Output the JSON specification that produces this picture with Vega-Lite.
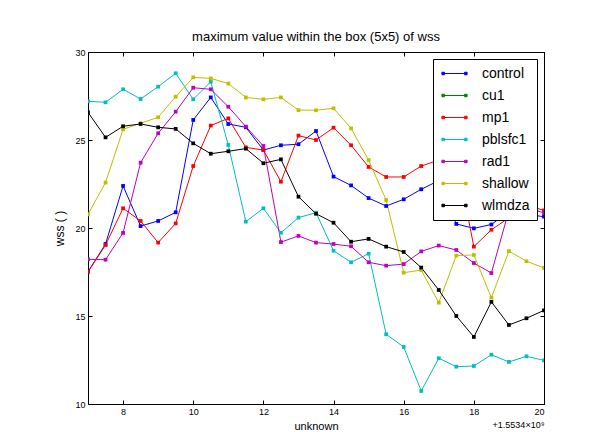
{
  "$schema": "https://vega.github.io/schema/vega-lite/v6.json",
  "width": 456,
  "height": 352,
  "autosize": {"type": "none"},
  "padding": {"left": 88, "top": 52, "right": 48, "bottom": 28},
  "background": "white",
  "title": {"text": "maximum value within the box (5x5) of wss", "font": "Liberation Sans", "fontSize": 13, "fontWeight": "normal", "color": "black", "anchor": "middle", "offset": 4},
  "data": {"values": [
    {"s":"control","t":7,"v":17.52},{"s":"control","t":7.5,"v":19.09},{"s":"control","t":8,"v":22.39},{"s":"control","t":8.5,"v":20.11},{"s":"control","t":9,"v":20.4},{"s":"control","t":9.5,"v":20.89},{"s":"control","t":10,"v":26.14},{"s":"control","t":10.5,"v":27.42},{"s":"control","t":11,"v":25.91},{"s":"control","t":11.5,"v":25.72},{"s":"control","t":12,"v":24.43},{"s":"control","t":12.5,"v":24.7},{"s":"control","t":13,"v":24.76},{"s":"control","t":13.5,"v":25.51},{"s":"control","t":14,"v":22.92},{"s":"control","t":14.5,"v":22.42},{"s":"control","t":15,"v":21.7},{"s":"control","t":15.5,"v":21.25},{"s":"control","t":16,"v":21.63},{"s":"control","t":16.5,"v":22.2},{"s":"control","t":17,"v":22.69},{"s":"control","t":17.5,"v":20.23},{"s":"control","t":18,"v":19.98},{"s":"control","t":18.5,"v":20.2},{"s":"control","t":19,"v":20.93},{"s":"control","t":19.5,"v":20.78},{"s":"control","t":20,"v":20.64},
    {"s":"mp1","t":7,"v":17.5},{"s":"mp1","t":7.5,"v":19.03},{"s":"mp1","t":8,"v":21.12},{"s":"mp1","t":8.5,"v":20.4},{"s":"mp1","t":9,"v":19.17},{"s":"mp1","t":9.5,"v":20.26},{"s":"mp1","t":10,"v":23.52},{"s":"mp1","t":10.5,"v":25.82},{"s":"mp1","t":11,"v":26.23},{"s":"mp1","t":11.5,"v":24.58},{"s":"mp1","t":12,"v":24.43},{"s":"mp1","t":12.5,"v":22.63},{"s":"mp1","t":13,"v":25.25},{"s":"mp1","t":13.5,"v":25.0},{"s":"mp1","t":14,"v":25.7},{"s":"mp1","t":14.5,"v":24.7},{"s":"mp1","t":15,"v":23.47},{"s":"mp1","t":15.5,"v":22.9},{"s":"mp1","t":16,"v":22.9},{"s":"mp1","t":16.5,"v":23.52},{"s":"mp1","t":17,"v":23.86},{"s":"mp1","t":17.5,"v":24.0},{"s":"mp1","t":18,"v":18.94},{"s":"mp1","t":18.5,"v":19.9},{"s":"mp1","t":19,"v":20.58},{"s":"mp1","t":19.5,"v":21.3},{"s":"mp1","t":20,"v":21.0},
    {"s":"pblsfc1","t":7,"v":27.2},{"s":"pblsfc1","t":7.5,"v":27.14},{"s":"pblsfc1","t":8,"v":27.88},{"s":"pblsfc1","t":8.5,"v":27.33},{"s":"pblsfc1","t":9,"v":28.03},{"s":"pblsfc1","t":9.5,"v":28.79},{"s":"pblsfc1","t":10,"v":27.31},{"s":"pblsfc1","t":10.5,"v":28.31},{"s":"pblsfc1","t":11,"v":24.72},{"s":"pblsfc1","t":11.5,"v":20.36},{"s":"pblsfc1","t":12,"v":21.12},{"s":"pblsfc1","t":12.5,"v":19.73},{"s":"pblsfc1","t":13,"v":20.59},{"s":"pblsfc1","t":13.5,"v":20.87},{"s":"pblsfc1","t":14,"v":18.71},{"s":"pblsfc1","t":14.5,"v":18.05},{"s":"pblsfc1","t":15,"v":18.54},{"s":"pblsfc1","t":15.5,"v":13.96},{"s":"pblsfc1","t":16,"v":13.24},{"s":"pblsfc1","t":16.5,"v":10.74},{"s":"pblsfc1","t":17,"v":12.6},{"s":"pblsfc1","t":17.5,"v":12.12},{"s":"pblsfc1","t":18,"v":12.16},{"s":"pblsfc1","t":18.5,"v":12.8},{"s":"pblsfc1","t":19,"v":12.39},{"s":"pblsfc1","t":19.5,"v":12.71},{"s":"pblsfc1","t":20,"v":12.48},
    {"s":"rad1","t":7,"v":18.22},{"s":"rad1","t":7.5,"v":18.2},{"s":"rad1","t":8,"v":19.72},{"s":"rad1","t":8.5,"v":23.71},{"s":"rad1","t":9,"v":25.38},{"s":"rad1","t":9.5,"v":26.61},{"s":"rad1","t":10,"v":27.97},{"s":"rad1","t":10.5,"v":27.88},{"s":"rad1","t":11,"v":26.89},{"s":"rad1","t":11.5,"v":25.76},{"s":"rad1","t":12,"v":24.66},{"s":"rad1","t":12.5,"v":19.2},{"s":"rad1","t":13,"v":19.55},{"s":"rad1","t":13.5,"v":19.17},{"s":"rad1","t":14,"v":19.09},{"s":"rad1","t":14.5,"v":18.96},{"s":"rad1","t":15,"v":18.05},{"s":"rad1","t":15.5,"v":17.86},{"s":"rad1","t":16,"v":17.95},{"s":"rad1","t":16.5,"v":18.67},{"s":"rad1","t":17,"v":19.0},{"s":"rad1","t":17.5,"v":18.75},{"s":"rad1","t":18,"v":18.01},{"s":"rad1","t":18.5,"v":17.44},{"s":"rad1","t":19,"v":21.0},{"s":"rad1","t":19.5,"v":21.2},{"s":"rad1","t":20,"v":20.85},
    {"s":"shallow","t":7,"v":20.78},{"s":"shallow","t":7.5,"v":22.58},{"s":"shallow","t":8,"v":25.61},{"s":"shallow","t":8.5,"v":25.95},{"s":"shallow","t":9,"v":26.29},{"s":"shallow","t":9.5,"v":27.46},{"s":"shallow","t":10,"v":28.56},{"s":"shallow","t":10.5,"v":28.5},{"s":"shallow","t":11,"v":28.21},{"s":"shallow","t":11.5,"v":27.42},{"s":"shallow","t":12,"v":27.31},{"s":"shallow","t":12.5,"v":27.42},{"s":"shallow","t":13,"v":26.7},{"s":"shallow","t":13.5,"v":26.69},{"s":"shallow","t":14,"v":26.8},{"s":"shallow","t":14.5,"v":25.66},{"s":"shallow","t":15,"v":23.86},{"s":"shallow","t":15.5,"v":21.59},{"s":"shallow","t":16,"v":17.46},{"s":"shallow","t":16.5,"v":17.61},{"s":"shallow","t":17,"v":15.76},{"s":"shallow","t":17.5,"v":18.43},{"s":"shallow","t":18,"v":18.47},{"s":"shallow","t":18.5,"v":16.04},{"s":"shallow","t":19,"v":18.69},{"s":"shallow","t":19.5,"v":18.11},{"s":"shallow","t":20,"v":17.73},
    {"s":"wlmdza","t":7,"v":26.57},{"s":"wlmdza","t":7.5,"v":25.15},{"s":"wlmdza","t":8,"v":25.78},{"s":"wlmdza","t":8.5,"v":25.91},{"s":"wlmdza","t":9,"v":25.72},{"s":"wlmdza","t":9.5,"v":25.63},{"s":"wlmdza","t":10,"v":24.81},{"s":"wlmdza","t":10.5,"v":24.22},{"s":"wlmdza","t":11,"v":24.36},{"s":"wlmdza","t":11.5,"v":24.51},{"s":"wlmdza","t":12,"v":23.68},{"s":"wlmdza","t":12.5,"v":23.9},{"s":"wlmdza","t":13,"v":21.78},{"s":"wlmdza","t":13.5,"v":20.81},{"s":"wlmdza","t":14,"v":20.3},{"s":"wlmdza","t":14.5,"v":19.22},{"s":"wlmdza","t":15,"v":19.38},{"s":"wlmdza","t":15.5,"v":18.94},{"s":"wlmdza","t":16,"v":18.64},{"s":"wlmdza","t":16.5,"v":17.75},{"s":"wlmdza","t":17,"v":16.48},{"s":"wlmdza","t":17.5,"v":15.0},{"s":"wlmdza","t":18,"v":13.81},{"s":"wlmdza","t":18.5,"v":15.8},{"s":"wlmdza","t":19,"v":14.49},{"s":"wlmdza","t":19.5,"v":14.87},{"s":"wlmdza","t":20,"v":15.32}
  ]},
  "layer": [
    {
      "mark": {"type": "line", "strokeWidth": 1, "clip": true},
      "encoding": {
        "x": {"field": "t", "type": "quantitative", "scale": {"domain": [7, 20], "nice": false, "zero": false},
              "axis": {"orient": "bottom", "values": [8, 10, 12, 14, 16, 18, 20], "title": "unknown", "titleFontSize": 11, "titlePadding": 4}},
        "y": {"field": "v", "type": "quantitative", "scale": {"domain": [10, 30], "nice": false, "zero": false},
              "axis": {"orient": "left", "values": [10, 15, 20, 25, 30], "title": "wss ( )", "titleFontSize": 12, "titlePadding": 8}},
        "color": {"field": "s", "type": "nominal",
                  "scale": {"domain": ["control", "cu1", "mp1", "pblsfc1", "rad1", "shallow", "wlmdza"],
                            "range": ["#0000ff", "#008000", "#ff0000", "#00bfbf", "#bf00bf", "#bfbf00", "#000000"]}}
      }
    },
    {
      "mark": {"type": "point", "shape": "square", "filled": true, "size": 14, "opacity": 1, "clip": true},
      "encoding": {
        "x": {"field": "t", "type": "quantitative", "axis": null},
        "y": {"field": "v", "type": "quantitative", "axis": null},
        "color": {"field": "s", "type": "nominal"}
      }
    },
    {
      "mark": {"type": "point", "opacity": 0},
      "encoding": {
        "x": {"field": "t", "type": "quantitative",
              "axis": {"orient": "top", "values": [8, 10, 12, 14, 16, 18, 20], "labels": false, "title": "+1.5534×10⁹", "titleFontSize": 9, "titleX": 456, "titleY": 377, "titleAlign": "right", "titleAnchor": null, "titleAngle": 0}},
        "y": {"field": "v", "type": "quantitative",
              "axis": {"orient": "right", "values": [10, 15, 20, 25, 30], "labels": false, "title": null}}
      }
    }
  ],
  "resolve": {"axis": {"x": "independent", "y": "independent"}},
  "config": {
    "view": {"stroke": "black", "strokeWidth": 1},
    "axis": {"domainColor": "black", "domainWidth": 1, "tickColor": "black", "tickWidth": 1, "tickSize": -4, "labelPadding": 7,
             "labelColor": "black", "labelFont": "Liberation Sans", "labelFontSize": 9, "grid": false,
             "titleColor": "black", "titleFont": "Liberation Sans", "titleFontWeight": "normal"},
    "legend": {"orient": "top-right", "offset": 7, "title": null, "strokeColor": "black", "fillColor": "white",
               "padding": 7, "labelFont": "Liberation Sans", "labelFontSize": 14, "labelColor": "black",
               "rowPadding": 7, "symbolOffset": 7, "labelOffset": 20, "symbolSize": 196, "symbolStrokeWidth": 1,
               "symbolType": "M-1.7,0H1.7M-1.8,-0.18h0.36v0.36h-0.36ZM1.44,-0.18h0.36v0.36h-0.36Z"}
  }
}
